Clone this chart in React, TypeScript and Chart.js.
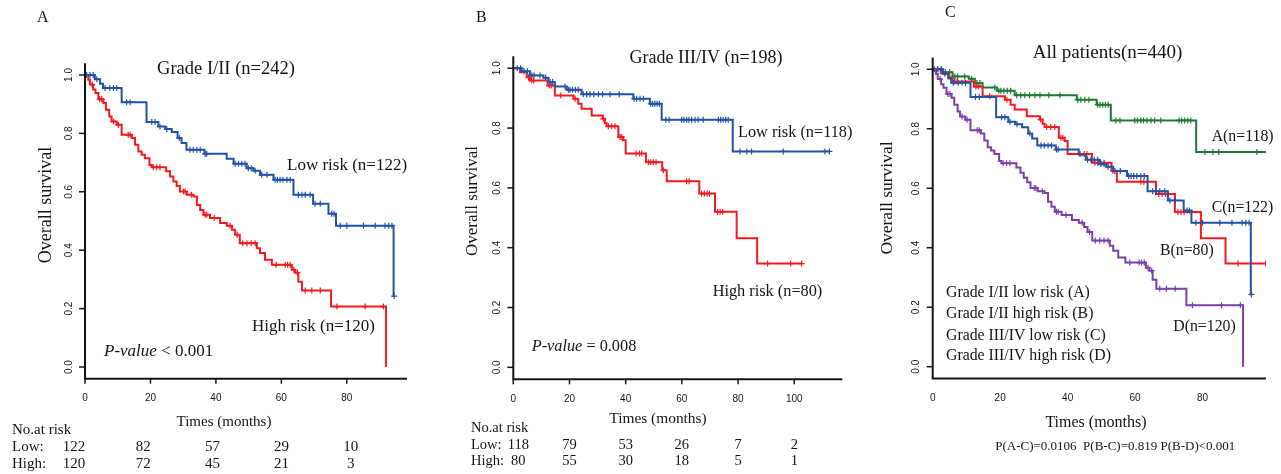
import React, { useEffect, useRef } from "react";
import { Chart, registerables } from "chart.js";

Chart.register(...registerables);

// ---------------- DATA ----------------
// Grade I/II low risk (blue in A, blue in C)
const aLowTimes = [3.0, 4.6, 5.5, 11.2, 18.8, 22.4, 24.5, 26.5, 28.3, 29.5, 31.0, 36.5, 43.3, 45.4, 49.4, 51.5, 53.5, 57.6, 63.7, 69.7, 74.4, 76.7, 94.3];
const aLowSurv = [0.985, 0.97, 0.955, 0.907, 0.839, 0.824, 0.815, 0.805, 0.784, 0.767, 0.744, 0.73, 0.713, 0.696, 0.681, 0.672, 0.658, 0.641, 0.59, 0.559, 0.525, 0.484, 0.243];
const aLowCensor = [0.5, 1.5, 2.5, 3.6, 6.1, 7.6, 8.7, 9.7, 12.7, 13.8, 20.4, 21.4, 22.9, 25.0, 28.8, 32.1, 33.1, 34.2, 35.2, 36.7, 37.2, 45.9, 46.9, 47.9, 48.9, 49.9, 50.8, 52.0, 54.0, 55.6, 58.1, 58.8, 59.6, 60.5, 61.7, 62.7, 65.2, 66.3, 67.3, 68.8, 70.3, 71.9, 75.4, 76.1, 78.0, 80.0, 85.1, 88.7, 91.7, 92.8, 93.8, 94.5];

// Grade I/II high risk (red in A, purple in C)
const aHighTimes = [1.0, 1.5, 2.5, 3.2, 4.1, 5.6, 6.4, 7.4, 8.1, 9.7, 11.2, 14.3, 15.3, 16.3, 17.3, 18.3, 19.7, 20.4, 24.8, 26.0, 27.0, 28.0, 29.0, 31.1, 33.1, 34.2, 35.2, 36.2, 38.2, 41.3, 43.3, 44.9, 45.9, 47.3, 52.5, 53.5, 55.0, 57.1, 63.2, 64.2, 65.2, 66.3, 75.2, 92.0];
const aHighSurv = [0.984, 0.967, 0.95, 0.938, 0.917, 0.904, 0.881, 0.858, 0.841, 0.83, 0.795, 0.784, 0.761, 0.738, 0.727, 0.715, 0.692, 0.684, 0.67, 0.652, 0.635, 0.62, 0.601, 0.59, 0.584, 0.555, 0.538, 0.521, 0.51, 0.493, 0.484, 0.47, 0.453, 0.424, 0.407, 0.39, 0.367, 0.35, 0.333, 0.323, 0.292, 0.262, 0.207, 0.0];
const aHighCensor = [2.2, 4.5, 5.1, 8.7, 10.2, 13.2, 13.8, 20.9, 21.9, 22.9, 30.1, 30.6, 32.5, 36.7, 37.2, 39.5, 44.3, 46.5, 48.2, 49.5, 50.8, 52.0, 58.4, 61.2, 61.9, 62.7, 63.8, 64.9, 67.3, 69.3, 71.9, 77.0, 85.6, 91.2];

// Grade III/IV low risk (blue in B, green in C)
const bLowTimes = [3.0, 5.9, 10.7, 12.5, 14.8, 19.0, 24.3, 42.7, 48.6, 52.8, 78.1];
const bLowSurv = [0.99, 0.976, 0.968, 0.954, 0.939, 0.928, 0.913, 0.898, 0.881, 0.828, 0.722];
const bLowCensor = [1.4, 2.6, 3.8, 5.0, 6.6, 7.4, 9.5, 11.5, 13.1, 14.0, 18.4, 19.6, 20.2, 21.1, 22.1, 23.1, 24.9, 26.1, 27.3, 28.7, 30.3, 31.8, 34.4, 37.7, 43.0, 43.9, 45.1, 46.3, 48.9, 49.6, 50.4, 51.2, 52.0, 54.3, 55.5, 59.9, 60.7, 61.7, 62.5, 63.5, 64.7, 65.8, 67.6, 73.0, 73.8, 74.7, 75.6, 76.5, 80.7, 83.1, 84.8, 96.1, 110.9, 112.5];

// Grade III/IV high risk (red in B, red in C)
const bHighTimes = [2.4, 4.8, 5.9, 12.2, 14.8, 21.4, 23.1, 24.3, 27.9, 31.8, 32.6, 33.2, 37.4, 39.1, 40.0, 47.2, 53.0, 54.6, 66.2, 71.8, 79.5, 86.8];
const bHighSurv = [0.987, 0.97, 0.959, 0.942, 0.909, 0.898, 0.881, 0.865, 0.842, 0.831, 0.817, 0.806, 0.77, 0.759, 0.715, 0.686, 0.659, 0.622, 0.581, 0.52, 0.432, 0.347];
const bHighCensor = [5.4, 6.5, 7.2, 12.8, 13.5, 16.9, 22.0, 32.0, 33.8, 35.0, 36.2, 38.0, 38.6, 43.7, 44.9, 45.7, 48.1, 48.9, 49.8, 50.8, 53.4, 61.7, 62.6, 67.0, 68.0, 69.0, 69.8, 72.7, 73.6, 74.5, 90.5, 98.7, 102.6];

// Axis ticks
const yTicks = [0, 0.2, 0.4, 0.6, 0.8, 1.0];
const xTicksA = [0, 20, 40, 60, 80];
const xTicksB = [0, 20, 40, 60, 80, 100];
const xTicksC = [0, 20, 40, 60, 80];

// Numbers at risk
const riskTimesA = [0, 20, 40, 60, 80];
const riskLowA = [122, 82, 57, 29, 10];
const riskHighA = [120, 72, 45, 21, 3];
const riskTimesB = [0, 20, 40, 60, 80, 100];
const riskLowB = [118, 79, 53, 26, 7, 2];
const riskHighB = [80, 55, 30, 18, 5, 1];

// ---------------- STYLE ----------------
const BLUE = "#2152A6";
const RED = "#F5191E";
const GREEN = "#1F7A36";
const PURPLE = "#7A40AA";
const INK = "#141414";
const SERIF = '"Liberation Serif", "Times New Roman", serif';
const SANS = '"Liberation Sans", Arial, sans-serif';

type Curve = { times: number[]; surv: number[]; censor: number[]; color: string };
type Txt = {
  t: string;
  x: number;
  y: number;
  size: number;
  align?: CanvasTextAlign;
  rot?: boolean;
  italic?: string;
};
type Risk = {
  times: number[];
  low: number[];
  high: number[];
  xAt: (i: number, px: number) => number;
  yLow: number;
  yHigh: number;
  size: number;
};
type PanelProps = {
  left: number;
  width: number;
  pad: { left: number; right: number; top: number; bottom: number };
  xMax: number;
  xTicks: number[];
  tickMarks: boolean;
  curves: Curve[];
  texts: Txt[];
  risk?: Risk;
};

function survAt(times: number[], surv: number[], t: number) {
  let s = 1;
  for (let i = 0; i < times.length; i++) if (times[i] <= t) s = surv[i];
  return s;
}
function linePoints(c: Curve) {
  const pts = [{ x: 0, y: 1 }];
  c.times.forEach((t, i) => pts.push({ x: t, y: c.surv[i] }));
  const lastC = Math.max(...c.censor);
  const lastT = c.times[c.times.length - 1];
  if (lastC > lastT) pts.push({ x: lastC, y: c.surv[c.surv.length - 1] });
  return pts;
}
function censorPoints(c: Curve) {
  return c.censor.map((t) => ({ x: t, y: survAt(c.times, c.surv, t) }));
}

function drawText(ctx: CanvasRenderingContext2D, tx: Txt) {
  ctx.save();
  ctx.fillStyle = INK;
  ctx.textBaseline = "middle";
  const normal = `${tx.size}px ${SERIF}`;
  if (tx.rot) {
    ctx.translate(tx.x, tx.y);
    ctx.rotate(-Math.PI / 2);
    ctx.textAlign = "center";
    ctx.font = normal;
    ctx.fillText(tx.t, 0, 0);
  } else if (tx.italic) {
    ctx.textAlign = "left";
    ctx.font = `italic ${tx.size}px ${SERIF}`;
    ctx.fillText(tx.italic, tx.x, tx.y);
    const w = ctx.measureText(tx.italic).width;
    ctx.font = normal;
    ctx.fillText(tx.t, tx.x + w, tx.y);
  } else {
    ctx.textAlign = tx.align ?? "left";
    ctx.font = normal;
    ctx.fillText(tx.t, tx.x, tx.y);
  }
  ctx.restore();
}

function Panel(props: PanelProps) {
  const ref = useRef<HTMLCanvasElement | null>(null);
  useEffect(() => {
    if (!ref.current) return;
    const datasets: any[] = [];
    props.curves.forEach((c) => {
      datasets.push({
        data: linePoints(c),
        showLine: true,
        stepped: "before",
        borderColor: c.color,
        borderWidth: 2,
        pointRadius: 0,
        fill: false,
      });
      datasets.push({
        data: censorPoints(c),
        showLine: false,
        pointStyle: "cross",
        pointRadius: 3,
        borderWidth: 1.2,
        borderColor: c.color,
        backgroundColor: c.color,
      });
    });
    const axesPlugin = {
      id: "kmAxes",
      afterDraw(chart: any) {
        const ctx: CanvasRenderingContext2D = chart.ctx;
        const { left, right, top, bottom } = chart.chartArea;
        const xs = chart.scales.x;
        const ys = chart.scales.y;
        ctx.save();
        ctx.strokeStyle = INK;
        ctx.lineWidth = 2;
        ctx.beginPath();
        ctx.moveTo(left, top);
        ctx.lineTo(left, bottom);
        ctx.lineTo(right, bottom);
        ctx.stroke();
        ctx.lineWidth = 1.5;
        ctx.fillStyle = INK;
        ctx.font = `10px ${SANS}`;
        ctx.textBaseline = "middle";
        yTicks.forEach((v) => {
          const py = ys.getPixelForValue(v);
          ctx.beginPath();
          ctx.moveTo(left - 6, py);
          ctx.lineTo(left, py);
          ctx.stroke();
          ctx.save();
          ctx.translate(left - 16, py);
          ctx.rotate(-Math.PI / 2);
          ctx.textAlign = "center";
          ctx.fillText(v.toFixed(1), 0, 0);
          ctx.restore();
        });
        props.xTicks.forEach((t) => {
          const px = xs.getPixelForValue(t);
          if (props.tickMarks) {
            ctx.beginPath();
            ctx.moveTo(px, bottom);
            ctx.lineTo(px, bottom + 5);
            ctx.stroke();
          }
          ctx.textAlign = "center";
          ctx.fillText(String(t), px, bottom + 19.5);
        });
        ctx.restore();
        props.texts.forEach((tx) => drawText(ctx, tx));
        const r = props.risk;
        if (r) {
          r.times.forEach((t, i) => {
            const px = r.xAt(i, xs.getPixelForValue(t));
            drawText(ctx, { t: String(r.low[i]), x: px, y: r.yLow, size: r.size, align: "center" });
            drawText(ctx, { t: String(r.high[i]), x: px, y: r.yHigh, size: r.size, align: "center" });
          });
        }
      },
    };
    const chart = new Chart(ref.current, {
      type: "scatter",
      data: { datasets },
      options: {
        animation: false,
        responsive: false,
        events: [],
        layout: { padding: props.pad },
        plugins: { legend: { display: false }, tooltip: { enabled: false }, title: { display: false } },
        scales: {
          x: { type: "linear", min: 0, max: props.xMax, display: false },
          y: { type: "linear", min: -0.04, max: 1.04, display: false },
        },
      },
      plugins: [axesPlugin],
    } as any);
    return () => chart.destroy();
  }, []);
  return (
    <canvas
      ref={ref}
      width={props.width}
      height={474}
      style={{ position: "absolute", left: props.left, top: 0, width: props.width, height: 474 }}
    />
  );
}

const curveALow: Curve = { times: aLowTimes, surv: aLowSurv, censor: aLowCensor, color: BLUE };
const curveAHigh: Curve = { times: aHighTimes, surv: aHighSurv, censor: aHighCensor, color: RED };
const curveBLow: Curve = { times: bLowTimes, surv: bLowSurv, censor: bLowCensor, color: BLUE };
const curveBHigh: Curve = { times: bHighTimes, surv: bHighSurv, censor: bHighCensor, color: RED };

export default function App() {
  return (
    <div style={{ position: "absolute", left: 0, top: 0, width: 1281, height: 474, background: "#fff", overflow: "hidden" }}>
      <Panel
        left={0}
        width={430}
        pad={{ left: 85, right: 23, top: 63.3, bottom: 95.3 }}
        xMax={98.4}
        xTicks={xTicksA}
        tickMarks={true}
        curves={[curveALow, curveAHigh]}
        texts={[
          { t: "A", x: 37, y: 18, size: 16 },
          { t: "Grade I/II (n=242)", x: 226, y: 69, size: 18.5, align: "center" },
          { t: "Low risk (n=122)", x: 287, y: 166, size: 17 },
          { t: "High risk (n=120)", x: 252, y: 327, size: 17 },
          { t: " < 0.001", italic: "P-value", x: 104, y: 352, size: 17 },
          { t: "Overall survival", x: 46, y: 205, size: 18, rot: true },
          { t: "Times (months)", x: 224, y: 422, size: 15, align: "center" },
          { t: "No.at risk", x: 12, y: 430, size: 15 },
          { t: "Low:", x: 12, y: 447, size: 15 },
          { t: "High:", x: 12, y: 464, size: 15 },
        ]}
        risk={{
          times: riskTimesA,
          low: riskLowA,
          high: riskHighA,
          xAt: (i) => 74 + i * 69.2,
          yLow: 447,
          yHigh: 464,
          size: 15,
        }}
      />
      <Panel
        left={430}
        width={430}
        pad={{ left: 83.3, right: 17.7, top: 56.3, bottom: 94.7 }}
        xMax={117.1}
        xTicks={xTicksB}
        tickMarks={true}
        curves={[curveBLow, curveBHigh]}
        texts={[
          { t: "B", x: 46, y: 18, size: 16 },
          { t: "Grade III/IV (n=198)", x: 276, y: 58, size: 18, align: "center" },
          { t: "Low risk (n=118)", x: 308, y: 133, size: 16.3 },
          { t: "High risk (n=80)", x: 282.7, y: 292, size: 16.3 },
          { t: " = 0.008", italic: "P-value", x: 101.7, y: 347, size: 16.3 },
          { t: "Overall survival", x: 43, y: 201, size: 17, rot: true },
          { t: "Times (months)", x: 228, y: 419, size: 15.4, align: "center" },
          { t: "No.at risk", x: 41, y: 428, size: 14.5 },
          { t: "Low:", x: 41, y: 445, size: 14.5 },
          { t: "High:", x: 41, y: 461, size: 14.5 },
        ]}
        risk={{
          times: riskTimesB,
          low: riskLowB,
          high: riskHighB,
          xAt: (i, px) => (i === 0 ? px + 5 : px),
          yLow: 445,
          yHigh: 461,
          size: 14.5,
        }}
      />
      <Panel
        left={860}
        width={421}
        pad={{ left: 72.7, right: 15, top: 57.4, bottom: 95.4 }}
        xMax={98.8}
        xTicks={xTicksC}
        tickMarks={false}
        curves={[
          { ...curveAHigh, color: PURPLE },
          curveALow,
          { ...curveBHigh, color: RED },
          { ...curveBLow, color: GREEN },
        ]}
        texts={[
          { t: "C", x: 85, y: 13, size: 16 },
          { t: "All patients(n=440)", x: 247.5, y: 53, size: 19, align: "center" },
          { t: "A(n=118)", x: 351.7, y: 137, size: 15.8 },
          { t: "C(n=122)", x: 351.7, y: 208, size: 15.8 },
          { t: "B(n=80)", x: 300, y: 251, size: 15.8 },
          { t: "D(n=120)", x: 313.3, y: 327, size: 15.8 },
          { t: "Grade I/II low risk (A)", x: 86, y: 293, size: 15.8 },
          { t: "Grade I/II high risk (B)", x: 86, y: 314, size: 15.8 },
          { t: "Grade III/IV low risk (C)", x: 86, y: 336, size: 15.8 },
          { t: "Grade III/IV high risk (D)", x: 86, y: 356, size: 15.8 },
          { t: "Overall survival", x: 27, y: 198, size: 17.5, rot: true },
          { t: "Times (months)", x: 236, y: 423, size: 16, align: "center" },
          { t: "P(A-C)=0.0106  P(B-C)=0.819 P(B-D)<0.001", x: 255.3, y: 447, size: 13, align: "center" },
        ]}
      />
    </div>
  );
}
